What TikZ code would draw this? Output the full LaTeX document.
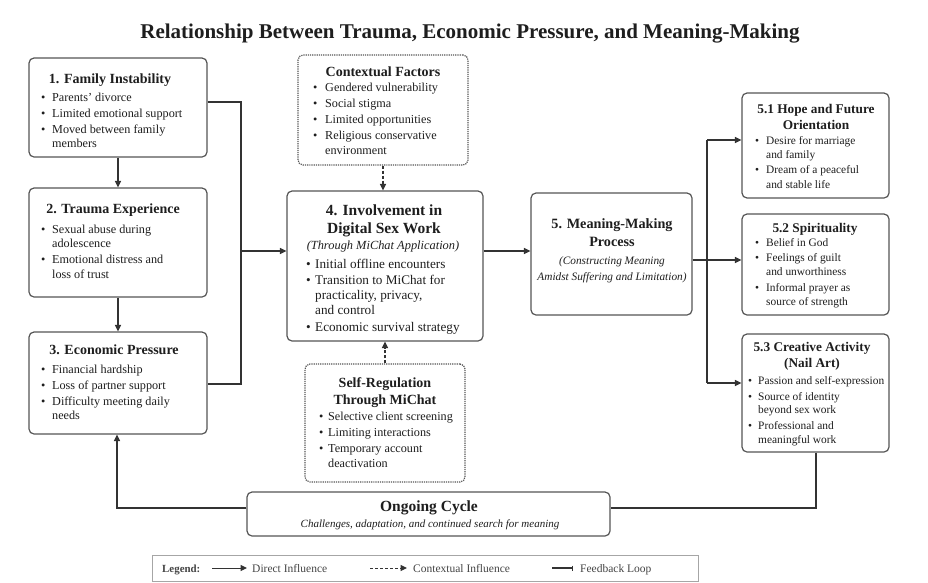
\documentclass[tikz,border=0pt]{standalone}
\usepackage{fontspec}
\setmainfont{Liberation Serif}
\usetikzlibrary{arrows.meta}
\definecolor{bord}{HTML}{555555}
\definecolor{conn}{HTML}{333333}
\definecolor{txt}{HTML}{1E1E1E}
\definecolor{legc}{HTML}{444444}
\newlength{\bind}
\newcommand{\fsz}[2]{\fontsize{#1}{#2}\selectfont}
\newcommand{\bitem}[1]{\par\hangindent=\bind\hangafter=1\noindent\makebox[\bind][l]{\textbullet}#1}
\newcommand{\blist}[4]{\parbox[t]{#1}{\raggedright\setlength{\parskip}{#2}\setlength{\bind}{#3}#4}}
\newcommand{\hlines}[1]{\begin{tabular}[t]{@{}c@{}}#1\end{tabular}}
\tikzset{
  boxs/.style={draw=bord, line width=1.2pt, rounded corners=5pt, fill=white, inner sep=0pt},
  dotbox/.style={boxs, densely dotted},
  hd/.style={anchor=base, inner sep=0pt, text=txt, font={\fsz{14}{16}\bfseries}},
  hdit/.style={anchor=base, inner sep=0pt, text=txt},
  bl/.style={anchor=base west, inner sep=0pt, text=txt},
  ln/.style={draw=conn, line width=1.3pt},
  arr/.style={ln, -{Triangle[length=6.5pt,width=6pt]}},
  ctxarr/.style={arr, dash pattern=on 3pt off 2pt},
  fbarr/.style={ln, -{Bar[width=5pt,line width=1pt]}},
}
\begin{document}
\begin{tikzpicture}[x=1pt,y=-1pt]
\fill[white] (0,0) rectangle (928,582);
\useasboundingbox (0,0) rectangle (928,582);

% title
\node[anchor=base, inner sep=0pt, text=txt, font={\fsz{21}{24}\bfseries}] (title) at (470,38) {Relationship Between Trauma, Economic Pressure, and Meaning-Making};

% boxes
\node[boxs, minimum width=178pt, minimum height=99pt] (b1) at (118,107.5) {};
\node[boxs, minimum width=178pt, minimum height=109pt] (b2) at (118,242.5) {};
\node[boxs, minimum width=178pt, minimum height=102pt] (b3) at (118,383) {};
\node[dotbox, minimum width=170pt, minimum height=110pt] (ctx) at (383,110) {};
\node[boxs, minimum width=196pt, minimum height=150pt] (b4) at (385,266) {};
\node[dotbox, minimum width=160pt, minimum height=118pt] (sr) at (385,423) {};
\node[boxs, minimum width=161pt, minimum height=122pt] (b5) at (611.5,254) {};
\node[boxs, minimum width=147pt, minimum height=105pt] (b51) at (815.5,145.5) {};
\node[boxs, minimum width=147pt, minimum height=101pt] (b52) at (815.5,264.5) {};
\node[boxs, minimum width=147pt, minimum height=118pt] (b53) at (815.5,393) {};
\node[boxs, minimum width=363pt, minimum height=44pt] (oc) at (428.5,514) {};
\node[draw=black!35, line width=0.6pt, fill=white, minimum width=546pt, minimum height=26pt, inner sep=0pt] (leg) at (425,568) {};

% headings
\node[hd] (h1) at (110,83) {1. Family Instability};
\node[hd] (h2) at (113,213) {2. Trauma Experience};
\node[hd] (h3) at (114,354) {3. Economic Pressure};
\node[hd] (hctx) at (383,76) {Contextual Factors};
\node[hd, font={\fsz{15.5}{18}\bfseries}] (h4) at (384,215) {\hlines{4. Involvement in\\Digital Sex Work}};
\node[hdit, font={\fsz{12.4}{15}\itshape}] (h4i) at (383,249) {(Through MiChat Application)};
\node[hd, font={\fsz{14}{17}\bfseries}] (hsr) at (385,387) {\hlines{Self-Regulation\\Through MiChat}};
\node[hd, font={\fsz{14.2}{18}\bfseries}] (h5) at (612,228) {\hlines{5. Meaning-Making\\Process}};
\node[hdit, font={\fsz{11.3}{16}\itshape}] (h5i) at (612,264) {\hlines{(Constructing Meaning\\Amidst Suffering and Limitation)}};
\node[hd, font={\fsz{13.3}{16}\bfseries}] (h51) at (816,113) {\hlines{5.1 Hope and Future\\Orientation}};
\node[hd, font={\fsz{13.3}{16}\bfseries}] (h52) at (815,232) {5.2 Spirituality};
\node[hd, font={\fsz{13.3}{16}\bfseries}] (h53) at (812,351) {\hlines{5.3 Creative Activity\\(Nail Art)}};
\node[hd, font={\fsz{15.5}{18}\bfseries}] (hoc) at (429,511) {Ongoing Cycle};
\node[hdit, font={\fsz{11}{14}\itshape}] (hoci) at (430,527) {Challenges, adaptation, and continued search for meaning};

% bullet lists
\node[bl, font={\fsz{12.2}{14.5}}] (t1) at (41,101) {\blist{155pt}{1.5pt}{11pt}{\bitem{Parents' divorce}\bitem{Limited emotional support}\bitem{Moved between family\newline members}}};
\node[bl, font={\fsz{12.2}{14.5}}] (t2) at (41,233) {\blist{155pt}{1.5pt}{11pt}{\bitem{Sexual abuse during\newline adolescence}\bitem{Emotional distress and\newline loss of trust}}};
\node[bl, font={\fsz{12.2}{14.5}}] (t3) at (41,373) {\blist{155pt}{1.5pt}{11pt}{\bitem{Financial hardship}\bitem{Loss of partner support}\bitem{Difficulty meeting daily\newline needs}}};
\node[bl, font={\fsz{12.2}{14.5}}] (tctx) at (313,91) {\blist{150pt}{1.8pt}{12pt}{\bitem{Gendered vulnerability}\bitem{Social stigma}\bitem{Limited opportunities}\bitem{Religious conservative\newline environment}}};
\node[bl, font={\fsz{13.2}{15}}] (t4) at (306,268) {\blist{175pt}{1.8pt}{9pt}{\bitem{Initial offline encounters}\bitem{Transition to MiChat for\newline practicality, privacy,\newline and control}\bitem{Economic survival strategy}}};
\node[bl, font={\fsz{12.2}{15.5}}] (tsr) at (319,420) {\blist{145pt}{0.5pt}{9pt}{\bitem{Selective client screening}\bitem{Limiting interactions}\bitem{Temporary account\newline deactivation}}};
\node[bl, font={\fsz{11.4}{14.5}}] (t51) at (755,144) {\blist{130pt}{0.8pt}{11pt}{\bitem{Desire for marriage\newline and family}\bitem{Dream of a peaceful\newline and stable life}}};
\node[bl, font={\fsz{11.4}{14}}] (t52) at (755,246) {\blist{130pt}{1.5pt}{11pt}{\bitem{Belief in God}\bitem{Feelings of guilt\newline and unworthiness}\bitem{Informal prayer as\newline source of strength}}};
\node[bl, font={\fsz{11.4}{13.5}}] (t53) at (748,384) {\blist{138pt}{2.5pt}{10pt}{\bitem{Passion and self-expression}\bitem{Source of identity\newline beyond sex work}\bitem{Professional and\newline meaningful work}}};

% connectors
\draw[arr] (b1.south) -- (b2.north);
\draw[arr] (b2.south) -- (b3.north);
\coordinate (j1) at (241,102);
\coordinate (j3) at (241,384);
\coordinate (jm) at (241,251);
\draw[ln] (b1.east |- j1) -- (j1) -- (j3) -- (b3.east |- j3);
\draw[arr] (jm) -- (b4.west |- jm);
\coordinate (k45) at (483,251);
\draw[arr] (b4.east |- k45) -- (b5.west |- k45);
\draw[ctxarr] (ctx.south) -- (ctx.south |- b4.north);
\draw[ctxarr] (sr.north) -- (sr.north |- b4.south);
\coordinate (f1) at (707,140);
\coordinate (f2) at (707,260);
\coordinate (f3) at (707,383);
\draw[ln] (b5.east |- f2) -- (f2);
\draw[ln] (f1) -- (f3);
\draw[arr] (f1) -- (b51.west |- f1);
\draw[arr] (f2) -- (b52.west |- f2);
\draw[arr] (f3) -- (b53.west |- f3);
\coordinate (g1) at (816,508);
\coordinate (g2) at (117,508);
\draw[ln] (b53.south -| g1) -- (g1) -- (oc.east |- g1);
\draw[arr] (oc.west |- g2) -- (g2) -- (g2 |- b3.south);

% legend
\node[anchor=base west, inner sep=0pt, text=legc, font={\fsz{10.9}{13}\bfseries}] (lgt) at (162,572) {Legend:};
\coordinate (la1) at (212,568); \coordinate (la2) at (247,568);
\coordinate (lb1) at (370,568); \coordinate (lb2) at (407,568);
\coordinate (lc1) at (552,568); \coordinate (lc2) at (573,568);
\draw[arr, line width=1pt] (la1) -- (la2);
\draw[ctxarr, line width=1pt] (lb1) -- (lb2);
\draw[fbarr] (lc1) -- (lc2);
\node[anchor=base west, inner sep=0pt, text=legc, font={\fsz{11.5}{13}}] (lga) at (252,572) {Direct Influence};
\node[anchor=base west, inner sep=0pt, text=legc, font={\fsz{11.5}{13}}] (lgb) at (413,572) {Contextual Influence};
\node[anchor=base west, inner sep=0pt, text=legc, font={\fsz{11.5}{13}}] (lgc) at (580,572) {Feedback Loop};
\end{tikzpicture}
\end{document}
